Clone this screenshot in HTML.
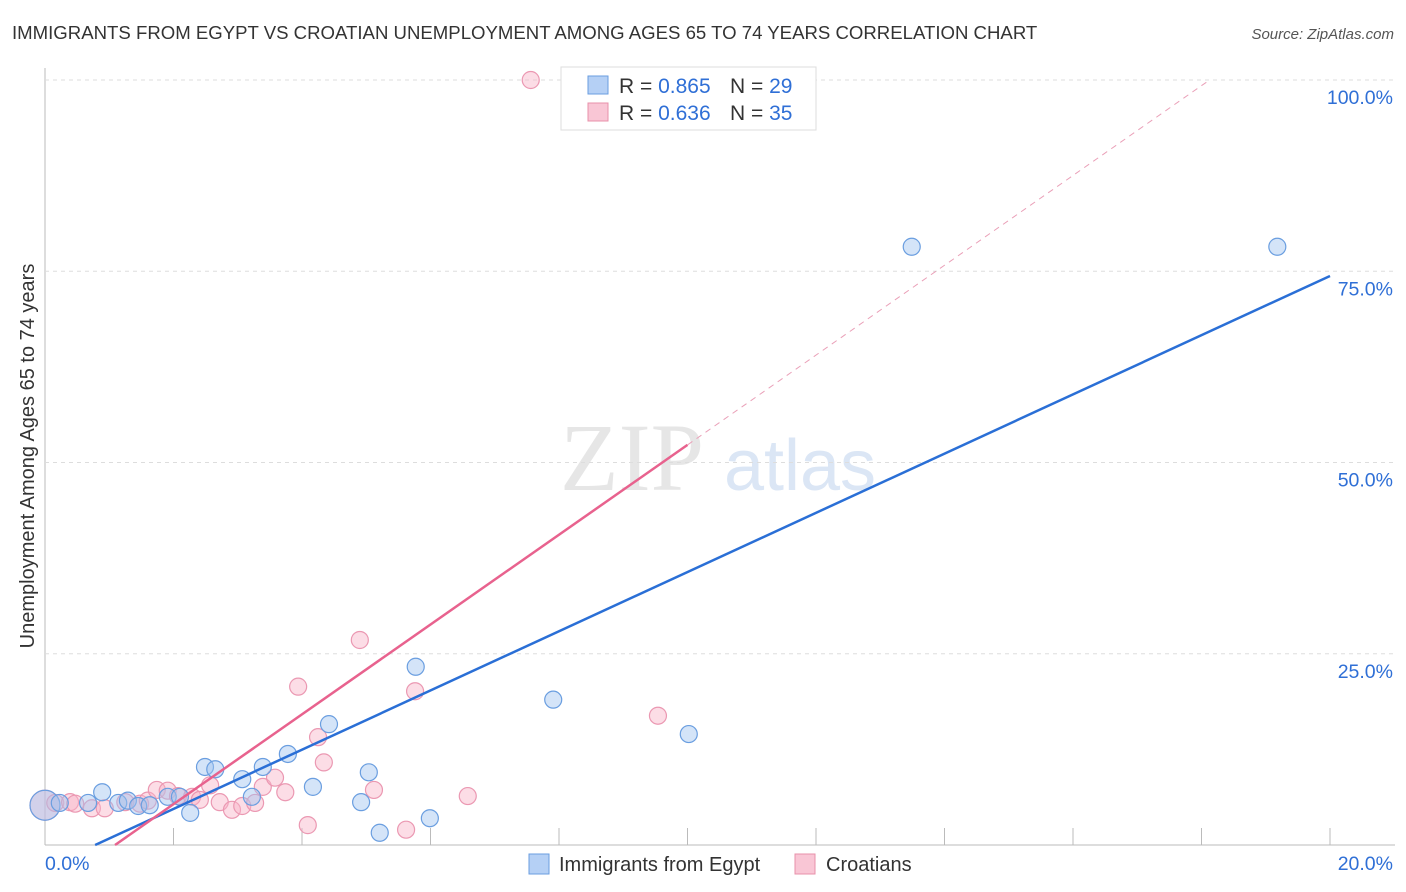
<!DOCTYPE html>
<html><head><meta charset="utf-8"><style>
body{margin:0;background:#fff;font-family:"Liberation Sans",sans-serif;}
#wrap{position:relative;width:1406px;height:892px;overflow:hidden;}
</style></head><body>
<div id="wrap">
<svg id="svg" width="1406" height="892" xmlns="http://www.w3.org/2000/svg">
<text x="12" y="39" font-size="18.6" fill="#333">IMMIGRANTS FROM EGYPT VS CROATIAN UNEMPLOYMENT AMONG AGES 65 TO 74 YEARS CORRELATION CHART</text>
<text x="1394" y="39" font-size="15" fill="#555" font-style="italic" text-anchor="end">Source: ZipAtlas.com</text>
<text x="632" y="490" font-size="96" fill="#e6e6e6" font-family="Liberation Serif" text-anchor="middle">ZIP</text>
<text x="800" y="490" font-size="72" fill="#dbe6f5" text-anchor="middle">atlas</text>
<text transform="translate(34,456) rotate(-90)" font-size="20" fill="#333" text-anchor="middle">Unemployment Among Ages 65 to 74 years</text>
<g id="grid"></g><g id="pts"></g><g id="lines"></g>
<g>
<rect x="561" y="67" width="255" height="63" fill="#fff" stroke="#ddd"/>
<rect x="588" y="76" width="20" height="18" fill="#b5d0f5" stroke="#6a9ee0"/>
<rect x="588" y="103" width="20" height="18" fill="#f9c6d5" stroke="#e890aa"/>
<text x="619" y="93" font-size="21" fill="#333">R = <tspan fill="#2f6fd6">0.865</tspan></text>
<text x="730" y="93" font-size="21" fill="#333">N = <tspan fill="#2f6fd6">29</tspan></text>
<text x="619" y="120" font-size="21" fill="#333">R = <tspan fill="#2f6fd6">0.636</tspan></text>
<text x="730" y="120" font-size="21" fill="#333">N = <tspan fill="#2f6fd6">35</tspan></text>
</g>
<g>
<rect x="529" y="854" width="20" height="20" fill="#b5d0f5" stroke="#6a9ee0"/>
<text x="559" y="871" font-size="20" fill="#333">Immigrants from Egypt</text>
<rect x="795" y="854" width="20" height="20" fill="#f9c6d5" stroke="#e890aa"/>
<text x="826" y="871" font-size="20" fill="#333">Croatians</text>
</g>
</svg>
</div>
<script>
const yTicks=[25,50,75,100];
const yTickLabels=["25.0%","50.0%","75.0%","100.0%"];
const xTicks=[2,4,6,8,10,12,14,16,18,20];
const egyptX=[0,.23,.67,.89,1.14,1.29,1.45,1.63,1.91,2.10,2.26,2.49,2.65,3.07,3.22,3.39,3.78,4.17,4.42,4.92,5.04,5.21,5.77,5.99,7.91,10.02,13.49,19.18];
const egyptY=[5.2,5.5,5.5,6.9,5.5,5.8,5.1,5.2,6.3,6.3,4.2,10.2,9.9,8.6,6.3,10.2,11.9,7.6,15.8,5.6,9.5,1.6,23.3,3.5,19.0,14.5,78.2,78.2];
const croX=[0,.16,.39,.47,.73,.93,1.25,1.48,1.60,1.74,1.91,2.07,2.29,2.41,2.57,2.72,2.91,3.07,3.27,3.39,3.58,3.74,3.94,4.09,4.25,4.34,4.90,5.12,5.62,5.76,6.58,7.56,9.54];
const croY=[5.2,5.5,5.6,5.4,4.8,4.8,5.6,5.4,5.8,7.2,7.1,6.4,6.3,5.9,7.8,5.6,4.6,5.1,5.5,7.6,8.8,6.9,20.7,2.6,14.1,10.8,26.8,7.2,2.0,20.1,6.4,100,16.9];
const egyptFit=[3.87,-3.02];
const croFit=[5.87,-6.4];
const NS="http://www.w3.org/2000/svg";
const X=v=>45+v*64.25, Y=v=>845-v*7.65;
function mk(t,a,p){const e=document.createElementNS(NS,t);for(const k in a)e.setAttribute(k,a[k]);p.appendChild(e);return e;}
const g=document.getElementById('grid');
let ax=mk('line',{x1:45,y1:68,x2:45,y2:845,stroke:'#bbb'},g);


let bx=mk('line',{x1:45,y1:845,x2:1395,y2:845,stroke:'#bbb'},g);


yTicks.forEach((t,i)=>{
 let l=mk('line',{x1:45,y1:Y(t),x2:1395,y2:Y(t),stroke:'#ddd','stroke-dasharray':'4,4'},g);
 
 
 let tx=mk('text',{x:1393,y:Y(t)+24,'font-size':19.5,fill:'#2f6fd6','text-anchor':'end'},g);tx.textContent=yTickLabels[i];
 
 
});
xTicks.forEach(t=>{
 let l=mk('line',{x1:X(t),y1:828,x2:X(t),y2:845,stroke:'#bbb'},g);
 
 
});
let x0=mk('text',{x:45,y:870,'font-size':19.5,fill:'#2f6fd6'},g);x0.textContent='0.0%';


let x1=mk('text',{x:1393,y:870,'font-size':19.5,fill:'#2f6fd6','text-anchor':'end'},g);x1.textContent='20.0%';


const p=document.getElementById('pts');
function pts(xs,ys,fill,stroke,name){xs.forEach((v,i)=>{
 let c=mk('circle',{cx:X(v),cy:Y(ys[i]),r:i===0?15:8.5,fill:fill,stroke:stroke,'stroke-width':1.2},p);
 
 
});}
pts(croX,croY,'rgba(248,180,200,0.45)','#eb98b2','croatians-point');
pts(egyptX,egyptY,'rgba(160,196,240,0.45)','#6a9ee0','egypt-point');
const L=document.getElementById('lines');
let x0b=-egyptFit[1]/egyptFit[0];
let bl=mk('line',{x1:X(x0b),y1:Y(0),x2:X(20),y2:Y(egyptFit[0]*20+egyptFit[1]),stroke:'#2a6fd6','stroke-width':2.5},L);


let x0p=-croFit[1]/croFit[0], xe=10, xt=(100-croFit[1])/croFit[0];
let pl=mk('line',{x1:X(x0p),y1:Y(0),x2:X(xe),y2:Y(croFit[0]*xe+croFit[1]),stroke:'#e8628e','stroke-width':2.5},L);


let pd=mk('line',{x1:X(xe),y1:Y(croFit[0]*xe+croFit[1]),x2:X(xt),y2:Y(100),stroke:'#eaa0b8','stroke-width':1,'stroke-dasharray':'6,5'},L);


</script>
</body></html>
